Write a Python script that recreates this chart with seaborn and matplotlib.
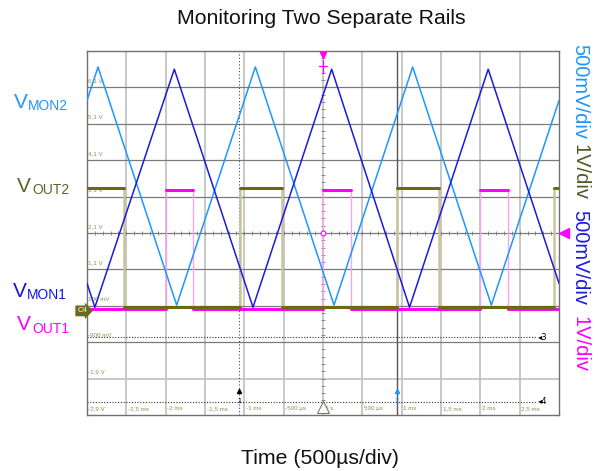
import numpy as np
import pandas as pd
import matplotlib
matplotlib.use("Agg")
import matplotlib.pyplot as plt
import seaborn as sns

# ---------------- data (time in ms, voltage in V) ----------------
vmon2_t = [-3.0, -2.86, -1.86, -0.86, 0.14, 1.14, 2.14, 3.0]
vmon2_v = [2.87, 3.33, 0.06, 3.33, 0.06, 3.33, 0.06, 2.87]
vmon1_t = [-3.0, -2.90, -1.89, -0.89, 0.11, 1.10, 2.10, 3.0]
vmon1_v = [0.36, 0.03, 3.30, 0.03, 3.30, 0.03, 3.30, 0.36]
vout2_edges = [-2.53, -1.055, -0.525, 0.944, 1.474, 2.94]
vout2_high, vout2_low = 3.35, 0.06
vout2_start_high = True
vout1_edges = [-2.0, -1.65, 0.0, 0.35, 2.0, 2.35]
vout1_high, vout1_low = 3.27, 0.02
vout1_start_high = False

scale_vmon2, scale_vout2, scale_vmon1, scale_vout1 = 0.5, 1.0, 0.5, 1.0  # V/div
ground_div = -2.1

volt_labels = ["6,1 V", "5,1 V", "4,1 V", "3,1 V", "2,1 V", "1,1 V", "100 mV", "-900 mV", "-1,9 V", "-2,9 V"]
volt_label_div = [4, 3, 2, 1, 0, -1, -2, -3, -4, -5]
time_labels = ["-2,5 ms", "-2 ms", "-1,5 ms", "-1 ms", "-500 µs", "0 s", "500 µs", "1 ms", "1,5 ms", "2 ms", "2,5 ms"]
time_label_pos = [-2.5, -2.0, -1.5, -1.0, -0.5, 0.0, 0.5, 1.0, 1.5, 2.0, 2.5]
cursor1_t, cursor2_t = -1.062, 0.94
ref3_div, ref4_div = -2.87, -4.64

C_LB = "#1e96ff"
C_DB = "#1a1ae0"
C_OL = "#6b6a12"
C_OL_EDGE = "#c9c49e"
C_MG = "#ff00ff"
C_MG_EDGE = "#ff9cff"
C_TXT = "#8f8f50"


def to_div(v, scale):
    return np.asarray(v) / scale + ground_div


def steps(edges, hi, lo, start_high):
    t = [-3.0]
    lvl = [hi if start_high else lo]
    state = start_high
    for e in edges:
        t.append(e); lvl.append(hi if state else lo)
        state = not state
        t.append(e); lvl.append(hi if state else lo)
    t.append(3.0); lvl.append(hi if state else lo)
    return np.array(t), np.array(lvl)


sns.set_theme(style="white")
plt.rcParams["font.family"] = ["Liberation Sans", "DejaVu Sans"]

fig = plt.figure(figsize=(6.0, 4.71), dpi=100)
ax = fig.add_axes([87 / 600, 1 - 415 / 471, 472 / 600, 364 / 471])
ax.set_xlim(-3, 3)
ax.set_ylim(-5, 5)
ax.set_xticks([]); ax.set_yticks([])
for s in ax.spines.values():
    s.set_color("#707070"); s.set_linewidth(1.0)

# grid
for x in np.arange(-2.5, 3.0, 0.5):
    ax.axvline(x, color="#c4c4c4", lw=1.3, zorder=0)
for y in range(-4, 5):
    ax.axhline(y, color="#c4c4c4" if y == -4 else "#7a7a7a", lw=1.3 if y == -4 else 0.9, zorder=0)
# centre crosshair ticks
ax.plot(np.arange(-3, 3.001, 0.1), np.zeros(61), ls="none", marker="|", ms=3, mew=0.6, color="#7a7a7a", zorder=1)
ax.plot(np.zeros(51), np.arange(-5, 5.001, 0.2), ls="none", marker="_", ms=3, mew=0.6, color="#7a7a7a", zorder=1)

# reference lines ch3 / ch4
for yy, lab in [(ref3_div, "3"), (ref4_div, "4")]:
    ax.plot([-3, 2.72], [yy, yy], ls=(0, (1, 1.5)), color="#333333", lw=0.8, zorder=1)
    ax.text(2.73, yy, "◂" + lab, fontsize=6, color="black", va="center", ha="left", family=["DejaVu Sans"])

# cursors
ax.axvline(cursor1_t, color="#444444", ls=(0, (1, 2)), lw=0.8, zorder=1)
ax.axvline(cursor2_t, color="#555555", lw=1.0, zorder=1)
ax.plot([cursor1_t], [-4.35], marker="^", ms=3, color="black", zorder=5)
ax.text(cursor1_t, -4.62, "1", fontsize=5, ha="center", va="center", color="black")
ax.plot([cursor2_t], [-4.35], marker="^", ms=3, color=C_LB, zorder=5)
ax.text(cursor2_t, -4.62, "2", fontsize=5, ha="center", va="center", color=C_LB)

# in-plot labels
for lab, yd in zip(volt_labels, volt_label_div):
    ax.text(-2.985, yd + 0.18, lab, fontsize=4.5, color=C_TXT, va="center", ha="left")
for lab, tp in zip(time_labels, time_label_pos):
    ax.text(tp + 0.02, -4.82, lab, fontsize=4.5, color=C_TXT, va="center", ha="left")

# pulse traces
t2, l2 = steps(vout2_edges, vout2_high, vout2_low, vout2_start_high)
t1, l1 = steps(vout1_edges, vout1_high, vout1_low, vout1_start_high)
d2 = pd.DataFrame({"t": t2, "y": to_div(l2, scale_vout2)})
d1 = pd.DataFrame({"t": t1, "y": to_div(l1, scale_vout1)})
ax.vlines(vout2_edges, to_div(vout2_low, scale_vout2), to_div(vout2_high, scale_vout2), color=C_OL_EDGE, lw=1.8, zorder=2)
ax.vlines(vout1_edges, to_div(vout1_low, scale_vout1), to_div(vout1_high, scale_vout1), color=C_MG_EDGE, lw=0.9, zorder=2)
for d, c in [(d1, C_MG), (d2, C_OL)]:
    for i in range(0, len(d), 2):
        seg = d.iloc[i:i + 2]
        sns.lineplot(data=seg, x="t", y="y", ax=ax, color=c, lw=2.2, estimator=None, sort=False, zorder=3)

# triangle traces
dm2 = pd.DataFrame({"t": vmon2_t, "y": to_div(vmon2_v, scale_vmon2)})
dm1 = pd.DataFrame({"t": vmon1_t, "y": to_div(vmon1_v, scale_vmon1)})
sns.lineplot(data=dm2, x="t", y="y", ax=ax, color=C_LB, lw=1.1, estimator=None, sort=False, zorder=4)
sns.lineplot(data=dm1, x="t", y="y", ax=ax, color=C_DB, lw=1.1, estimator=None, sort=False, zorder=4)
ax.set_xlabel(""); ax.set_ylabel("")

# markers
ax.plot([0], [0], marker="o", ms=3.5, mfc="white", mec=C_MG, mew=0.8, zorder=6)
ax.plot([0], [4.9], marker="v", ms=4, color=C_MG, zorder=6, clip_on=False)
ax.plot([0, 0], [4.4, 4.75], color=C_MG, lw=0.9, zorder=6)
ax.plot([-0.05, 0.05], [4.6, 4.6], color=C_MG, lw=0.9, zorder=6)
ax.plot([3.06], [0], marker="<", ms=7, color=C_MG, clip_on=False, zorder=6)
ax.plot([0], [-4.78], marker="^", ms=9, mfc="white", mec="#777777", mew=0.8, zorder=6)
ax.text(-3.0, to_div(-0.04, 1.0), "C4", fontsize=5.5, color="white", ha="right", va="center",
        bbox=dict(boxstyle="rarrow,pad=0.25", fc="#6b6a20", ec="none"), clip_on=False)

# titles
fig.text(321 / 600, 1 - 18 / 471, "Monitoring Two Separate Rails", fontsize=15.3, ha="center", va="center", color="#111111")
fig.text(320 / 600, 1 - 458 / 471, "Time (500µs/div)", fontsize=15.3, ha="center", va="center", color="#111111")

# left channel labels
def chan_label(xv, yb, sub, xs, ysb, color):
    fig.text(xv / 600, 1 - yb / 471, "V", fontsize=15, color=color, ha="left", va="baseline")
    fig.text(xs / 600, 1 - ysb / 471, sub, fontsize=10, color=color, ha="left", va="baseline")

chan_label(14, 108, "MON2", 28, 109.5, C_LB)
chan_label(17, 192, "OUT2", 32, 194, "#5b6428")
chan_label(13, 297, "MON1", 27, 299, "#1414e6")
chan_label(17, 330, "OUT1", 32, 333, C_MG)

# right scale labels
for txt, yc, c in [("500mV/div", 91.5, C_LB), ("1V/div", 172.5, "#4d5a26"),
                   ("500mV/div", 257.5, "#1a1ae6"), ("1V/div", 343.5, C_MG)]:
    fig.text(580 / 600, 1 - yc / 471, txt, fontsize=14.5, color=c, rotation=-90, ha="center", va="center")

fig.savefig("out.png", dpi=100)
